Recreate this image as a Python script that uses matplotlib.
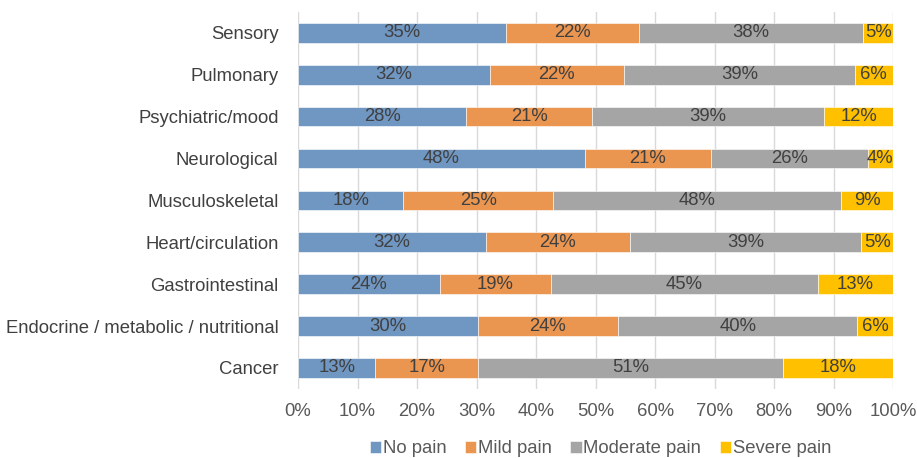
import numpy as np
import matplotlib
matplotlib.use("Agg")
from matplotlib import pyplot as plt
from matplotlib.ticker import PercentFormatter

plt.rcParams["font.family"] = ["Liberation Sans", "DejaVu Sans"]

# categories listed top to bottom, as in the chart
categories = [
    "Sensory",
    "Pulmonary",
    "Psychiatric/mood",
    "Neurological",
    "Musculoskeletal",
    "Heart/circulation",
    "Gastrointestinal",
    "Endocrine / metabolic / nutritional",
    "Cancer",
]
no_pain = [34.9, 32.3, 28.3, 48.2, 17.7, 31.6, 23.8, 30.2, 13.0]
mild_pain = [22.4, 22.4, 21.1, 21.2, 25.2, 24.1, 18.7, 23.6, 17.2]
moderate_pain = [37.7, 38.9, 39.0, 26.3, 48.4, 38.9, 44.8, 40.2, 51.3]
severe_pain = [5.0, 6.3, 11.6, 4.3, 8.6, 5.4, 12.7, 6.0, 18.4]

series_names = ["No pain", "Mild pain", "Moderate pain", "Severe pain"]
colors = ["#7096C2", "#EA9550", "#A5A5A5", "#FFC000"]
x_ticks = [0, 10, 20, 30, 40, 50, 60, 70, 80, 90, 100]

text_grey = "#595959"
label_grey = "#404040"
fs = 13.3

fig = plt.figure(figsize=(9.17, 4.58), dpi=100)
ax = fig.add_axes([0.325, 0.151, 0.649, 0.823])

y = np.arange(len(categories))
left = np.zeros(len(categories))
for name, vals, col in zip(series_names, [no_pain, mild_pain, moderate_pain, severe_pain], colors):
    vals = np.array(vals)
    bars = ax.barh(y, vals, left=left, height=0.47, color=col, label=name,
                   edgecolor="white", linewidth=0.4, zorder=3)
    ax.bar_label(bars, labels=[f"{round(v):.0f}%" for v in vals], label_type="center",
                 color=label_grey, fontsize=fs)
    left += vals

ax.set_xlim(0, 100)
ax.set_ylim(len(categories) - 0.5, -0.5)
ax.set_yticks(y)
ax.set_yticklabels(categories, fontsize=fs, color=label_grey)
ax.set_xticks(x_ticks)
ax.xaxis.set_major_formatter(PercentFormatter(decimals=0))
ax.tick_params(axis="x", labelsize=fs, colors=text_grey, length=0, pad=10)
ax.tick_params(axis="y", length=0, pad=14)
ax.grid(axis="x", color="#D9D9D9", linewidth=1, zorder=0)
for s in ax.spines.values():
    s.set_visible(False)

fig.legend(loc="center", bbox_to_anchor=(0.655, 0.02), ncol=4, frameon=False,
           fontsize=fs, labelcolor=text_grey, handlelength=0.6, handleheight=0.6,
           handletextpad=0.1, columnspacing=1.0, borderpad=0)

fig.savefig("out.png", dpi=100)
